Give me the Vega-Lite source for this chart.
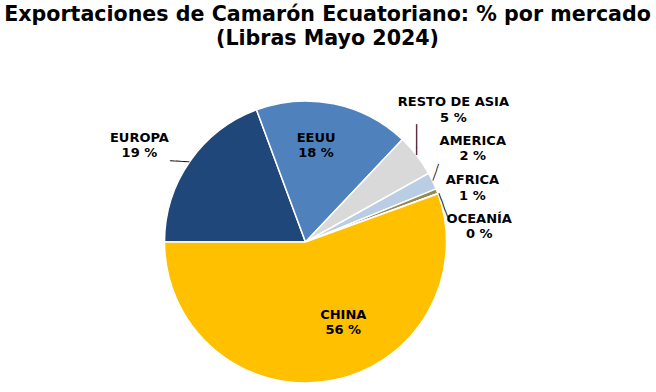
{
  "$schema": "https://vega.github.io/schema/vega-lite/v6.json",
  "width": 611,
  "height": 300,
  "autosize": {"type": "none"},
  "padding": {"left": 0, "top": 92, "right": 45, "bottom": 0},
  "background": "white",
  "title": {
    "text": ["Exportaciones de Camarón Ecuatoriano: % por mercado", "(Libras Mayo 2024)"],
    "font": "DejaVu Sans",
    "fontSize": 20.6,
    "fontWeight": "bold",
    "color": "#000000",
    "lineHeight": 24.5,
    "anchor": "middle",
    "dx": 22,
    "offset": 42
  },
  "data": {
    "values": [
      {"mercado": "EUROPA", "pct": 19.35, "orden": 1},
      {"mercado": "EEUU", "pct": 17.7, "orden": 2},
      {"mercado": "RESTO DE ASIA", "pct": 4.85, "orden": 3},
      {"mercado": "AMERICA", "pct": 1.95, "orden": 4},
      {"mercado": "AFRICA", "pct": 0.55, "orden": 5},
      {"mercado": "OCEANÍA", "pct": 0.05, "orden": 6},
      {"mercado": "CHINA", "pct": 55.55, "orden": 7}
    ]
  },
  "transform": [
    {"stack": "pct", "groupby": [], "sort": [{"field": "orden", "order": "ascending"}], "as": ["t0", "t1"]},
    {"calculate": "(datum.t0 + datum.t1) / 2", "as": "tmid"},
    {"calculate": "datum.mercado + '\\n' + format(datum.pct, '.0f') + ' %'", "as": "etiqueta"}
  ],
  "layer": [
    {
      "mark": {"type": "arc", "radius": 141, "stroke": "white", "strokeWidth": 1.5},
      "encoding": {
        "theta": {"field": "t0", "type": "quantitative", "stack": null, "scale": {"domain": [0, 100], "range": [4.71238898, 10.99557429]}},
        "theta2": {"field": "t1"},
        "color": {
          "field": "mercado",
          "type": "nominal",
          "scale": {
            "domain": ["EUROPA", "EEUU", "RESTO DE ASIA", "AMERICA", "AFRICA", "OCEANÍA", "CHINA"],
            "range": ["#20477A", "#4F81BD", "#D9D9D9", "#B9CDE5", "#948A54", "#4F6228", "#FFC000"]
          },
          "legend": null
        }
      }
    },
    {
      "transform": [{"filter": "datum.mercado === 'EUROPA'"}],
      "mark": {"type": "text", "radius": 195, "dx": -6, "dy": 7, "font": "DejaVu Sans", "fontSize": 13, "fontWeight": "bold", "lineHeight": 15.5, "lineBreak": "\n", "align": "center", "baseline": "middle", "color": "#000000"},
      "encoding": {"theta": {"field": "tmid", "type": "quantitative", "stack": null}, "text": {"field": "etiqueta", "type": "nominal"}}
    },
    {
      "transform": [{"filter": "datum.mercado === 'EEUU'"}],
      "mark": {"type": "text", "radius": 98, "dx": -9, "dy": -8, "font": "DejaVu Sans", "fontSize": 13, "fontWeight": "bold", "lineHeight": 15.5, "lineBreak": "\n", "align": "center", "baseline": "middle", "color": "#000000"},
      "encoding": {"theta": {"field": "tmid", "type": "quantitative", "stack": null}, "text": {"field": "etiqueta", "type": "nominal"}}
    },
    {
      "transform": [{"filter": "datum.mercado === 'RESTO DE ASIA'"}],
      "mark": {"type": "text", "radius": 195, "dx": -6, "dy": -20, "font": "DejaVu Sans", "fontSize": 13, "fontWeight": "bold", "lineHeight": 15.5, "lineBreak": "\n", "align": "center", "baseline": "middle", "color": "#000000"},
      "encoding": {"theta": {"field": "tmid", "type": "quantitative", "stack": null}, "text": {"field": "etiqueta", "type": "nominal"}}
    },
    {
      "transform": [{"filter": "datum.mercado === 'AMERICA'"}],
      "mark": {"type": "text", "radius": 190, "dx": -4, "dy": -19, "font": "DejaVu Sans", "fontSize": 13, "fontWeight": "bold", "lineHeight": 15.5, "lineBreak": "\n", "align": "center", "baseline": "middle", "color": "#000000"},
      "encoding": {"theta": {"field": "tmid", "type": "quantitative", "stack": null}, "text": {"field": "etiqueta", "type": "nominal"}}
    },
    {
      "transform": [{"filter": "datum.mercado === 'AFRICA'"}],
      "mark": {"type": "text", "radius": 180, "dx": -1, "dy": 3, "font": "DejaVu Sans", "fontSize": 13, "fontWeight": "bold", "lineHeight": 15.5, "lineBreak": "\n", "align": "center", "baseline": "middle", "color": "#000000"},
      "encoding": {"theta": {"field": "tmid", "type": "quantitative", "stack": null}, "text": {"field": "etiqueta", "type": "nominal"}}
    },
    {
      "transform": [{"filter": "datum.mercado === 'OCEANÍA'"}],
      "mark": {"type": "text", "radius": 185, "dx": 0, "dy": 40, "font": "DejaVu Sans", "fontSize": 13, "fontWeight": "bold", "lineHeight": 15.5, "lineBreak": "\n", "align": "center", "baseline": "middle", "color": "#000000"},
      "encoding": {"theta": {"field": "tmid", "type": "quantitative", "stack": null}, "text": {"field": "etiqueta", "type": "nominal"}}
    },
    {
      "transform": [{"filter": "datum.mercado === 'CHINA'"}],
      "mark": {"type": "text", "radius": 85, "dx": 23, "dy": -11, "font": "DejaVu Sans", "fontSize": 13, "fontWeight": "bold", "lineHeight": 15.5, "lineBreak": "\n", "align": "center", "baseline": "middle", "color": "#000000"},
      "encoding": {"theta": {"field": "tmid", "type": "quantitative", "stack": null}, "text": {"field": "etiqueta", "type": "nominal"}}
    },
    {
      "transform": [{"filter": "datum.mercado === 'EUROPA'"}],
      "mark": {"type": "text", "radius": 141.5, "angle": 183.5, "text": "───", "font": "DejaVu Sans Mono", "fontSize": 10.7, "align": "left", "baseline": "middle", "color": "#000000"},
      "encoding": {"theta": {"field": "tmid", "type": "quantitative", "stack": null}}
    },
    {
      "transform": [{"filter": "datum.mercado === 'RESTO DE ASIA'"}],
      "mark": {"type": "text", "radius": 141.5, "angle": 270, "text": "────", "font": "DejaVu Sans Mono", "fontSize": 12.8, "align": "left", "baseline": "middle", "color": "#000000"},
      "encoding": {"theta": {"field": "tmid", "type": "quantitative", "stack": null}}
    },
    {
      "transform": [{"filter": "datum.mercado === 'AMERICA'"}],
      "mark": {"type": "text", "radius": 141.5, "angle": 289.8, "text": "───", "font": "DejaVu Sans Mono", "fontSize": 9.8, "align": "left", "baseline": "middle", "color": "#000000"},
      "encoding": {"theta": {"field": "tmid", "type": "quantitative", "stack": null}}
    },
    {
      "transform": [{"filter": "datum.mercado === 'OCEANÍA'"}],
      "mark": {"type": "text", "radius": 141.5, "angle": 70, "text": "────", "font": "DejaVu Sans Mono", "fontSize": 10.4, "align": "left", "baseline": "middle", "color": "#000000"},
      "encoding": {"theta": {"field": "tmid", "type": "quantitative", "stack": null}}
    }
  ],
  "config": {"view": {"stroke": null}}
}
